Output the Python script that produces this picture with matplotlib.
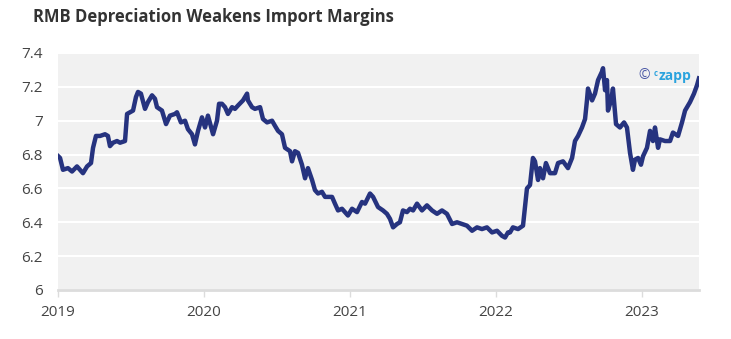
import matplotlib
matplotlib.use("Agg")
import matplotlib.pyplot as plt

plt.rcParams["font.family"] = ["Open Sans", "DejaVu Sans"]

# USD/CNY fixing, time as decimal years
years = [
    2019.002, 2019.014, 2019.034, 2019.068, 2019.096, 2019.130, 2019.151, 2019.171,
    2019.199, 2019.226, 2019.240, 2019.260, 2019.288, 2019.322, 2019.342, 2019.356,
    2019.377, 2019.404, 2019.425, 2019.459, 2019.473, 2019.493, 2019.514, 2019.534,
    2019.548, 2019.568, 2019.596, 2019.616, 2019.644, 2019.664, 2019.678, 2019.712,
    2019.740, 2019.767, 2019.801, 2019.815, 2019.842, 2019.870, 2019.890, 2019.918,
    2019.938, 2019.959, 2019.986, 2020.007, 2020.027, 2020.055, 2020.062, 2020.089,
    2020.103, 2020.123, 2020.144, 2020.164, 2020.192, 2020.212, 2020.233, 2020.267,
    2020.295, 2020.301, 2020.329, 2020.349, 2020.384, 2020.404, 2020.432, 2020.466,
    2020.486, 2020.507, 2020.534, 2020.555, 2020.589, 2020.603, 2020.623, 2020.644,
    2020.671, 2020.692, 2020.712, 2020.740, 2020.760, 2020.781, 2020.808, 2020.829,
    2020.849, 2020.877, 2020.897, 2020.918, 2020.945, 2020.966, 2020.986, 2021.014,
    2021.048, 2021.082, 2021.103, 2021.137, 2021.158, 2021.192, 2021.226, 2021.253,
    2021.274, 2021.295, 2021.322, 2021.342, 2021.363, 2021.390, 2021.411, 2021.432,
    2021.459, 2021.493, 2021.527, 2021.562, 2021.596, 2021.630, 2021.664, 2021.699,
    2021.733, 2021.767, 2021.801, 2021.836, 2021.870, 2021.904, 2021.938, 2021.973,
    2022.007, 2022.041, 2022.062, 2022.082, 2022.096, 2022.116, 2022.151, 2022.185,
    2022.212, 2022.233, 2022.253, 2022.267, 2022.288, 2022.301, 2022.322, 2022.342,
    2022.370, 2022.404, 2022.425, 2022.459, 2022.493, 2022.521, 2022.541, 2022.562,
    2022.589, 2022.610, 2022.623, 2022.630, 2022.658, 2022.678, 2022.699, 2022.726,
    2022.733, 2022.747, 2022.760, 2022.767, 2022.788, 2022.801, 2022.822, 2022.849,
    2022.877, 2022.897, 2022.918, 2022.938, 2022.952, 2022.973, 2022.993, 2023.007,
    2023.034, 2023.055, 2023.075, 2023.089, 2023.110, 2023.123, 2023.158, 2023.192,
    2023.212, 2023.247, 2023.274, 2023.295, 2023.329, 2023.356, 2023.377, 2023.390,
]
rates = [
    6.79, 6.78, 6.71, 6.72, 6.70, 6.73, 6.71, 6.69,
    6.73, 6.75, 6.84, 6.91, 6.91, 6.92, 6.91, 6.85,
    6.87, 6.88, 6.87, 6.88, 7.04, 7.05, 7.06, 7.14,
    7.17, 7.16, 7.07, 7.11, 7.15, 7.13, 7.08, 7.06,
    6.98, 7.03, 7.04, 7.05, 6.99, 7.00, 6.95, 6.92,
    6.86, 6.94, 7.02, 6.96, 7.03, 6.94, 6.92, 7.00,
    7.10, 7.10, 7.08, 7.04, 7.08, 7.07, 7.09, 7.12,
    7.16, 7.12, 7.08, 7.07, 7.08, 7.01, 6.99, 7.00,
    6.97, 6.94, 6.92, 6.84, 6.82, 6.76, 6.82, 6.81,
    6.74, 6.66, 6.72, 6.65, 6.59, 6.57, 6.58, 6.55,
    6.55, 6.55, 6.51, 6.47, 6.48, 6.46, 6.44, 6.48,
    6.46, 6.52, 6.51, 6.57, 6.55, 6.49, 6.47, 6.45,
    6.42, 6.37, 6.39, 6.40, 6.47, 6.46, 6.48, 6.47,
    6.51, 6.47, 6.50, 6.47, 6.45, 6.47, 6.45, 6.39,
    6.40, 6.39, 6.38, 6.35, 6.37, 6.36, 6.37, 6.34,
    6.35, 6.32, 6.31, 6.34, 6.34, 6.37, 6.36, 6.38,
    6.60, 6.62, 6.78, 6.76, 6.65, 6.72, 6.66, 6.75,
    6.69, 6.69, 6.75, 6.76, 6.72, 6.78, 6.88, 6.91,
    6.96, 7.01, 7.12, 7.19, 7.12, 7.16, 7.24, 7.29,
    7.31, 7.18, 7.24, 7.06, 7.12, 7.19, 6.98, 6.96,
    6.99, 6.96, 6.81, 6.71, 6.77, 6.78, 6.74, 6.79,
    6.84, 6.94, 6.88, 6.96, 6.84, 6.89, 6.88, 6.88,
    6.93, 6.91, 6.99, 7.06, 7.11, 7.16, 7.21, 7.25,
]

year_ticks = [2019, 2020, 2021, 2022, 2023]
rate_ticks = [6, 6.2, 6.4, 6.6, 6.8, 7, 7.2, 7.4]
rate_labels = ["6", "6.2", "6.4", "6.6", "6.8", "7", "7.2", "7.4"]

fig = plt.figure(figsize=(7.31, 3.39), dpi=100)
ax = fig.add_axes([58 / 731, 49 / 339, 641 / 731, 237 / 339])
ax.set_facecolor("#f1f1f1")

ax.plot(years, rates, color="#26337f", linewidth=3.2, solid_joinstyle="round", zorder=3)

ax.set_xlim(2019, 2019 + 641 / 146)
ax.set_ylim(6, 7.4)
ax.set_xticks(year_ticks)
ax.set_xticklabels([str(y) for y in year_ticks])
ax.set_yticks(rate_ticks)
ax.set_yticklabels(rate_labels)

ax.grid(axis="y", color="white", linewidth=1.5)
ax.set_axisbelow(True)
for side in ["top", "right", "left"]:
    ax.spines[side].set_visible(False)
ax.spines["bottom"].set_color("#dcdcdc")
ax.spines["bottom"].set_linewidth(2)

ax.tick_params(axis="y", length=0, pad=11, labelsize=11, labelcolor="#444444")
ax.tick_params(axis="x", length=5, width=1, color="#dcdcdc", pad=6,
               labelsize=11, labelcolor="#444444")

fig.text(33 / 731, 1 - 17 / 339, "RMB Depreciation Weakens Import Margins",
         fontsize=12, fontweight="bold", color="#333333", va="center", ha="left")

# watermark
ax.text(0.906, 0.905, "©", transform=ax.transAxes, fontsize=10,
        color="#4a58a6", ha="left", va="center")
ax.text(0.929, 0.915, "c", transform=ax.transAxes, fontsize=5.5,
        color="#2aa3de", ha="left", va="center", fontweight="bold")
ax.text(0.937, 0.905, "zapp", transform=ax.transAxes, fontsize=10,
        color="#2aa3de", ha="left", va="center", fontweight="bold")

fig.savefig("out.png", dpi=100)
